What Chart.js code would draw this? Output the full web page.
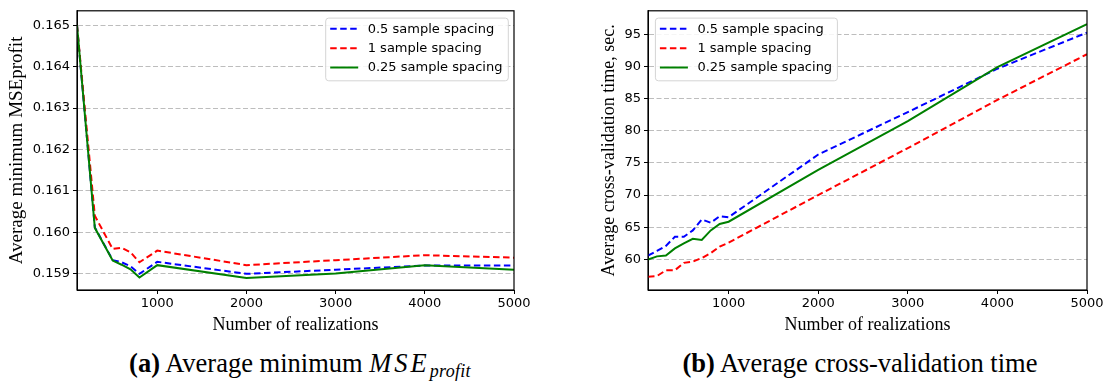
<!DOCTYPE html>
<html><head><meta charset="utf-8">
<script src="https://cdn.jsdelivr.net/npm/chart.js@4.4.1/dist/chart.umd.min.js"></script>
<style>
html,body{margin:0;padding:0;background:#fff;width:1109px;height:385px;overflow:hidden;position:relative}
#wa{position:absolute;left:0;top:0;width:540px;height:340px}
#wb{position:absolute;left:590px;top:0;width:519px;height:340px}
.cap{position:absolute;top:350px;transform:translateX(-50%);font-family:"Liberation Serif","Times New Roman",serif;font-size:26.5px;line-height:1;white-space:nowrap;color:#000}
.cap i.m{letter-spacing:3px}
.cap sub{font-size:18px;font-style:italic;letter-spacing:0.3px;vertical-align:-5px}
</style></head><body>
<div id="wa"><canvas id="ca"></canvas></div>
<div id="wb"><canvas id="cb"></canvas></div>
<div class="cap" style="left:300px"><b>(a)</b> Average minimum <i class="m">MSE</i><sub>profit</sub></div>
<div class="cap" style="left:860px"><b>(b)</b> Average cross-validation time</div>
<script>
// ---- data ----
const seriesLabels = ["0.5 sample spacing", "1 sample spacing", "0.25 sample spacing"];
const xLeft = [100, 300, 500, 600, 700, 800, 1000, 2000, 3000, 4000, 5000];
const mseHalf    = [0.1650, 0.16012, 0.15933, 0.15928, 0.15918, 0.15900, 0.15929, 0.15900, 0.15910, 0.15920, 0.15920];
const mseOne     = [0.1650, 0.16040, 0.15960, 0.15963, 0.15952, 0.15928, 0.15956, 0.15921, 0.15933, 0.15945, 0.15939];
const mseQuarter = [0.1650, 0.16011, 0.15932, 0.15922, 0.15911, 0.15891, 0.15921, 0.15890, 0.15901, 0.15921, 0.15910];
const xRight = [100, 200, 300, 400, 500, 600, 700, 800, 900, 1000, 2000, 3000, 4000, 5000];
const timeHalf    = [60.56, 61.3, 62.1, 63.5, 63.5, 64.5, 66.2, 65.7, 66.7, 66.55, 76.3, 82.9, 89.65, 95.26];
const timeOne     = [57.3, 57.4, 58.3, 58.3, 59.45, 59.65, 60.2, 60.97, 61.98, 62.6, 70.0, 77.3, 84.8, 91.9];
const timeQuarter = [59.95, 60.46, 60.6, 61.7, 62.5, 63.2, 63.0, 64.5, 65.5, 65.85, 73.9, 81.5, 89.9, 96.6];
const xTicks = [1000, 2000, 3000, 4000, 5000];
const yTicksLeft = [0.159, 0.160, 0.161, 0.162, 0.163, 0.164, 0.165];
const yTicksRight = [60, 65, 70, 75, 80, 85, 90, 95];

Chart.defaults.color = '#000';
Chart.defaults.font.family = '"DejaVu Sans"';

const framePlugin = {
  id: 'frame',
  afterDatasetsDraw(chart) {
    const {ctx, chartArea: a} = chart;
    ctx.save();
    ctx.strokeStyle = '#000'; ctx.lineWidth = 1.2; ctx.setLineDash([]);
    ctx.strokeRect(a.left, a.top, a.right - a.left, a.bottom - a.top);
    ctx.restore();
  }
};
const boxLegend = {
  id: 'boxLegend',
  afterDraw(chart, args, o) {
    const ctx = chart.ctx, ca = chart.chartArea;
    const w = o.w, h = 62.7;
    const x0 = o.side === 'right' ? ca.right - o.offset - w : ca.left + o.offset;
    const y0 = ca.top + 7.3;
    ctx.save();
    ctx.beginPath(); ctx.roundRect(x0, y0, w, h, 3);
    ctx.fillStyle = 'rgba(255,255,255,0.85)'; ctx.fill();
    ctx.strokeStyle = '#d4d4d4'; ctx.lineWidth = 1; ctx.stroke();
    ctx.font = '13px "DejaVu Sans"'; ctx.textBaseline = 'middle';
    chart.data.datasets.forEach((ds, i) => {
      const cy = y0 + 10.7 + i * 19.35;
      ctx.beginPath(); ctx.setLineDash(ds.borderDash || []);
      ctx.strokeStyle = ds.borderColor; ctx.lineWidth = 2;
      ctx.moveTo(x0 + 4.5, cy); ctx.lineTo(x0 + 32.5, cy); ctx.stroke();
      ctx.setLineDash([]);
      ctx.fillStyle = '#000';
      ctx.fillText(ds.label, x0 + 42, cy + 0.5);
    });
    ctx.restore();
  }
};

function mk(xs, vals) { return xs.map((x, i) => ({x: x, y: vals[i]})); }

function makeChart(id, xs, s, yMin, yMax, yTicks, fmt, yTitle, yTitleSize, yWidth, padRight, titlePad, legendOpts) {
  const styles = [
    {borderColor: '#0000ff', borderDash: [6.5, 3.5], order: 2},
    {borderColor: '#ff0000', borderDash: [6.5, 3.5], order: 1},
    {borderColor: '#008000', borderDash: [], order: 0}
  ];
  return new Chart(document.getElementById(id), {
    type: 'line',
    data: {
      datasets: s.map((vals, i) => Object.assign({
        label: seriesLabels[i], data: mk(xs, vals), borderWidth: 2,
        pointRadius: 0, tension: 0, fill: false
      }, styles[i]))
    },
    options: {
      responsive: true, maintainAspectRatio: false, animation: false,
      layout: {padding: {left: 0, top: 6, right: padRight, bottom: 0}},
      plugins: {legend: {display: false}, tooltip: {enabled: false}, boxLegend: legendOpts},
      scales: {
        x: {
          type: 'linear', min: 100, max: 5000,
          afterBuildTicks: sc => { sc.ticks = xTicks.map(v => ({value: v})); },
          afterFit: sc => { sc.height = 50; },
          grid: {color: 'rgba(0,0,0,0)', tickColor: '#000', tickLength: 4, lineWidth: 1},
          border: {display: true, color: '#000', width: 1},
          ticks: {font: {size: 13}, padding: 2, maxRotation: 0, color: '#000', callback: v => String(v)},
          title: {display: true, text: 'Number of realizations', color: '#000',
                  font: {family: '"Liberation Serif"', size: 18}, padding: {top: 0, bottom: 4}}
        },
        y: {
          min: yMin, max: yMax,
          afterBuildTicks: sc => { sc.ticks = yTicks.map(v => ({value: v})); },
          afterFit: sc => { sc.width = yWidth; },
          grid: {color: '#bdbdbd', tickColor: '#000', tickLength: 4, lineWidth: 1, tickBorderDash: []},
          border: {display: true, color: '#000', width: 1, dash: [5, 2.5]},
          ticks: {font: {size: 13}, padding: 3, color: '#000', callback: v => fmt(v)},
          title: {display: true, text: yTitle, color: '#000',
                  font: {family: '"Liberation Serif"', size: yTitleSize}, padding: {top: titlePad, bottom: 0}}
        }
      }
    },
    plugins: [framePlugin, boxLegend]
  });
}

makeChart('ca', xLeft, [mseHalf, mseOne, mseQuarter], 0.15861, 0.165348, yTicksLeft,
  v => v.toFixed(3), 'Average minimum MSEprofit', 19, 77, 26, 6, {side: 'right', offset: 5.7, w: 182.6});
makeChart('cb', xRight, [timeHalf, timeOne, timeQuarter], 55.23, 98.66, yTicksRight,
  v => String(v), 'Average cross-validation time, sec.', 18, 58, 22, 8, {side: 'left', offset: 7.4, w: 182});
</script>
</body></html>
